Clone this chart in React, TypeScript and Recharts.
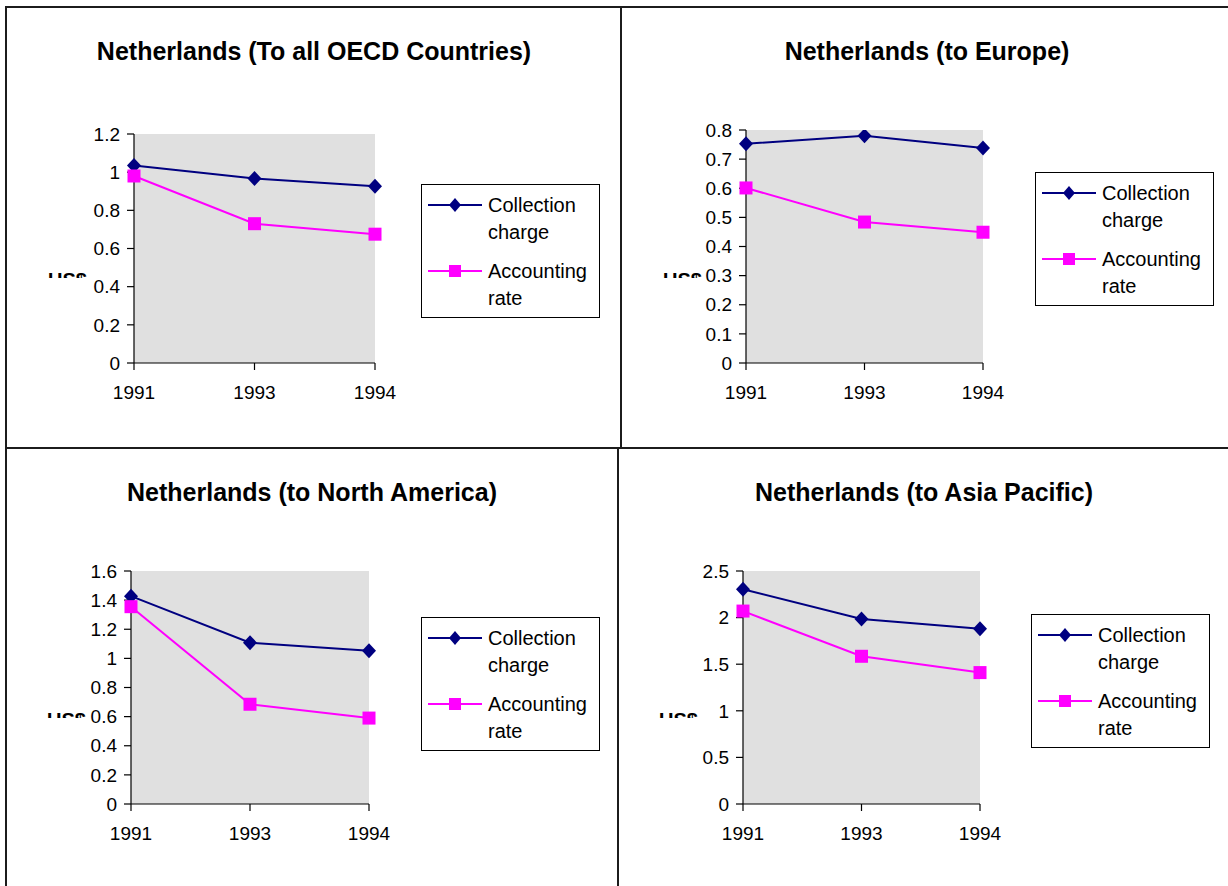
import React from 'react';
import { LineChart, Line, XAxis, YAxis, CartesianGrid, Legend } from 'recharts';

const years = ['1991', '1993', '1994'];

const oecdCollection = [1.035, 0.967, 0.926];
const oecdAccounting = [0.98, 0.73, 0.675];
const europeCollection = [0.753, 0.78, 0.738];
const europeAccounting = [0.601, 0.484, 0.449];
const naCollection = [1.427, 1.108, 1.052];
const naAccounting = [1.355, 0.685, 0.59];
const apCollection = [2.305, 1.985, 1.88];
const apAccounting = [2.07, 1.585, 1.41];

const oecdTicks = [0, 0.2, 0.4, 0.6, 0.8, 1, 1.2];
const europeTicks = [0, 0.1, 0.2, 0.3, 0.4, 0.5, 0.6, 0.7, 0.8];
const naTicks = [0, 0.2, 0.4, 0.6, 0.8, 1, 1.2, 1.4, 1.6];
const apTicks = [0, 0.5, 1, 1.5, 2, 2.5];

const titles = [
  'Netherlands (To all OECD Countries)',
  'Netherlands (to Europe)',
  'Netherlands (to North America)',
  'Netherlands (to Asia Pacific)',
];
const seriesOrder = ['collection', 'accounting'];
const seriesNames = { collection: 'Collection charge', accounting: 'Accounting rate' };
const yUnit = 'US$';

const NAVY = '#000080';
const MAGENTA = '#FF00FF';
const FONT = "'Liberation Sans', Arial, Helvetica, sans-serif";

type Rect = { x: number; y: number; w: number; h: number };
type Plot = { left: number; top: number; right: number; bottom: number };

const DiamondDot = (props: any) => {
  const { cx, cy, index } = props;
  if (cx == null || cy == null) return null;
  const r = 7.5;
  return (
    <path
      key={`dia-${index}`}
      d={`M${cx},${cy - r}L${cx + r - 0.5},${cy}L${cx},${cy + r}L${cx - r + 0.5},${cy}Z`}
      fill={NAVY}
      stroke="none"
    />
  );
};

const SquareDot = (props: any) => {
  const { cx, cy, index } = props;
  if (cx == null || cy == null) return null;
  const s = 13;
  return <rect key={`sq-${index}`} x={cx - s / 2} y={cy - s / 2} width={s} height={s} fill={MAGENTA} />;
};

const LegendIcon = ({ kind }: { kind: string }) => (
  <svg width={54} height={16} style={{ display: 'block' }}>
    <line x1={0} y1={8} x2={54} y2={8} stroke={kind === 'collection' ? NAVY : MAGENTA} strokeWidth={2} />
    {kind === 'collection' ? (
      <path d="M27,1L33,8L27,15L21,8Z" fill={NAVY} />
    ) : (
      <rect x={21} y={2} width={12} height={12} fill={MAGENTA} />
    )}
  </svg>
);

const LegendBox = (props: any) => {
  const payload = [...(props.payload || [])].sort(
    (a: any, b: any) => seriesOrder.indexOf(a.dataKey) - seriesOrder.indexOf(b.dataKey)
  );
  return (
    <div
      style={{
        width: 177,
        height: 125,
        border: '1px solid #000',
        background: '#fff',
        boxSizing: 'content-box',
        paddingTop: 7,
        fontFamily: FONT,
        fontSize: 20,
        lineHeight: '27px',
        color: '#000',
      }}
    >
      {payload.map((p: any, i: number) => (
        <div key={i} style={{ display: 'flex', alignItems: 'flex-start', marginBottom: 12, paddingLeft: 6 }}>
          <div style={{ paddingTop: 5, width: 54 }}>
            <LegendIcon kind={p.dataKey} />
          </div>
          <div style={{ marginLeft: 6, width: 112 }}>
            {String(p.value)
              .split(' ')
              .map((w, j) => (
                <div key={j}>{w}</div>
              ))}
          </div>
        </div>
      ))}
    </div>
  );
};

type PanelProps = {
  box: Rect;
  plot: Plot;
  title: string;
  titleCenter: number;
  titleY: number;
  collection: number[];
  accounting: number[];
  ticks: number[];
  legend: { x: number; y: number };
  unit: { x: number; y: number };
};

const Y_AXIS_W = 60;
const X_AXIS_H = 40;

function Panel(p: PanelProps) {
  const data = years.map((year, i) => ({ year, collection: p.collection[i], accounting: p.accounting[i] }));
  const margin = {
    top: p.plot.top - p.box.y,
    left: p.plot.left - p.box.x - Y_AXIS_W,
    right: p.box.x + p.box.w - p.plot.right,
    bottom: p.box.y + p.box.h - p.plot.bottom - X_AXIS_H,
  };
  const tickStyle = { fontFamily: FONT, fontSize: 19, fill: '#000' };
  const maxV = p.ticks[p.ticks.length - 1];
  return (
    <>
      <div
        style={{
          position: 'absolute',
          left: p.titleCenter - 300,
          top: p.titleY - 15,
          width: 600,
          textAlign: 'center',
          fontFamily: FONT,
          fontWeight: 'bold',
          fontSize: 25,
          lineHeight: '30px',
          color: '#000',
          whiteSpace: 'nowrap',
        }}
      >
        {p.title}
      </div>
      <div
        style={{
          position: 'absolute',
          left: p.unit.x,
          top: p.unit.y,
          height: 5,
          overflow: 'hidden',
          fontFamily: FONT,
          fontWeight: 'bold',
          fontSize: 20,
          lineHeight: '20px',
          color: '#000',
        }}
      >
        <div style={{ position: 'relative', top: -3 }}>{yUnit}</div>
      </div>
      <div style={{ position: 'absolute', left: p.box.x, top: p.box.y, width: p.box.w, height: p.box.h }}>
        <LineChart width={p.box.w} height={p.box.h} data={data} margin={margin}>
          <CartesianGrid fill="#E0E0E0" stroke="none" horizontal={false} vertical={false} />
          <XAxis
            xAxisId="top"
            orientation="top"
            dataKey="year"
            height={0}
            tick={false}
            tickLine={false}
            stroke="#8a8a8a"
            strokeWidth={1.5}
          />
          <YAxis
            yAxisId="right"
            orientation="right"
            width={0}
            domain={[0, maxV]}
            tick={false}
            tickLine={false}
            stroke="#8a8a8a"
            strokeWidth={1.5}
          />
          <XAxis
            dataKey="year"
            height={X_AXIS_H}
            tick={tickStyle}
            tickSize={7}
            tickMargin={16}
            stroke="#000"
            strokeWidth={1.2}
            interval={0}
          />
          <YAxis
            width={Y_AXIS_W}
            domain={[0, maxV]}
            ticks={p.ticks}
            tick={tickStyle}
            tickSize={7}
            tickMargin={7}
            stroke="#000"
            strokeWidth={1.2}
            interval={0}
            allowDataOverflow
          />
          <Legend
            layout="vertical"
            align="center"
            verticalAlign="middle"
            content={<LegendBox />}
            wrapperStyle={{ position: 'absolute', left: p.legend.x - p.box.x, top: p.legend.y - p.box.y, width: 179, height: 134 }}
          />
          <Line
            dataKey="collection"
            name={seriesNames.collection}
            stroke={NAVY}
            strokeWidth={2}
            dot={DiamondDot}
            activeDot={false}
            isAnimationActive={false}
          />
          <Line
            dataKey="accounting"
            name={seriesNames.accounting}
            stroke={MAGENTA}
            strokeWidth={2}
            dot={SquareDot}
            activeDot={false}
            isAnimationActive={false}
          />
        </LineChart>
      </div>
    </>
  );
}

const lineColor = '#1c1c1c';

export default function App() {
  return (
    <div style={{ position: 'absolute', left: 0, top: 0, width: 1228, height: 886, background: '#fff', overflow: 'hidden' }}>
      <div style={{ position: 'absolute', left: 5, top: 6, width: 1223, height: 2, background: lineColor }} />
      <div style={{ position: 'absolute', left: 5, top: 6, width: 2, height: 880, background: lineColor }} />
      <div style={{ position: 'absolute', left: 620, top: 6, width: 2, height: 442, background: lineColor }} />
      <div style={{ position: 'absolute', left: 5, top: 447, width: 1223, height: 2, background: lineColor }} />
      <div style={{ position: 'absolute', left: 617, top: 447, width: 2, height: 439, background: lineColor }} />

      <Panel
        box={{ x: 8, y: 8, w: 610, h: 438 }}
        plot={{ left: 134, top: 134, right: 375, bottom: 363 }}
        title={titles[0]}
        titleCenter={314}
        titleY={51}
        collection={oecdCollection}
        accounting={oecdAccounting}
        ticks={oecdTicks}
        legend={{ x: 421, y: 184 }}
        unit={{ x: 48, y: 273 }}
      />
      <Panel
        box={{ x: 624, y: 8, w: 602, h: 438 }}
        plot={{ left: 746, top: 130, right: 983, bottom: 363 }}
        title={titles[1]}
        titleCenter={927}
        titleY={51}
        collection={europeCollection}
        accounting={europeAccounting}
        ticks={europeTicks}
        legend={{ x: 1035, y: 172 }}
        unit={{ x: 663, y: 273 }}
      />
      <Panel
        box={{ x: 8, y: 450, w: 607, h: 436 }}
        plot={{ left: 131, top: 571, right: 369, bottom: 804 }}
        title={titles[2]}
        titleCenter={312}
        titleY={492}
        collection={naCollection}
        accounting={naAccounting}
        ticks={naTicks}
        legend={{ x: 421, y: 617 }}
        unit={{ x: 47, y: 713 }}
      />
      <Panel
        box={{ x: 620, y: 450, w: 606, h: 436 }}
        plot={{ left: 743, top: 571, right: 980, bottom: 804 }}
        title={titles[3]}
        titleCenter={924}
        titleY={492}
        collection={apCollection}
        accounting={apAccounting}
        ticks={apTicks}
        legend={{ x: 1031, y: 614 }}
        unit={{ x: 659, y: 713 }}
      />
    </div>
  );
}
